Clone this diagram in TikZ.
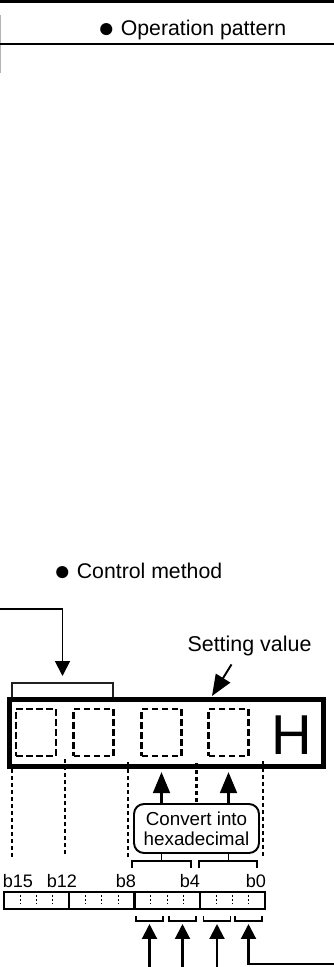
\documentclass[tikz,border=0pt]{standalone}
\usepackage{fontspec}
\setmainfont{Liberation Sans}
\usetikzlibrary{arrows.meta, calc}
\definecolor{my_black}{HTML}{000000}
\definecolor{my_gray}{HTML}{B4B4B4}
\definecolor{my_darkgray}{HTML}{202020}
\newcommand{\headbullet}{{\fontsize{16}{16}\selectfont\raisebox{-1.6pt}{●}}}

\begin{document}
\begin{tikzpicture}[
    x=0.02cm, y=-0.02cm,  % one unit = one pixel of the sheet, y runs downwards
    line width=1.1pt,
    tip/.style={-{Triangle[length=8.5pt,width=8.5pt]}},
    bigtip/.style={-{Triangle[length=12pt,width=9.5pt]}},
    digit/.style={draw, dash pattern=on 3.8pt off 1.9pt, line width=1.3pt,
        minimum width=0.8cm, minimum height=0.94cm, inner sep=0pt},
    guide/.style={dash pattern=on 2.3pt off 1.7pt, line width=1.4pt},
    bitsep/.style={dash pattern=on 1pt off 1.2pt, line width=0.6pt},
    title/.style={anchor=base west, inner sep=0pt, font=\fontsize{12.1}{14}\selectfont},
]
\useasboundingbox (0,0) rectangle (334,967);

% ── Sheet rules at the top ───────────────────────────────────────────────────
\draw[my_black, line width=1.55pt] (0,1.3) -- (334,1.3);
\draw[my_gray, line width=0.6pt] (0.5,15) -- (0.5,73);
\draw[my_black, line width=1.2pt] (0,44) -- (334,44);
\node[title] (op-title) at (97,35) {\headbullet\ Operation pattern};

% ── Control method heading ───────────────────────────────────────────────────
\node[title] (ctl-title) at (53,578) {\headbullet\ Control method};

% ── Display with four digits and the H suffix ────────────────────────────────
\node[draw, line width=3pt, minimum width=6.28cm, minimum height=1.34cm,
    inner sep=0pt] (disp) at (166.5,733) {};
\foreach \i/\x in {1/36, 2/93.5, 3/161.5, 4/228.5}
    \node[digit] (dig\i) at (\x,732.5) {};
\node[font=\fontsize{32}{32}\selectfont, inner sep=0pt] (hex-h) at (291.5,735) {H};

% ── Upper two digits: bracket and incoming arrow ─────────────────────────────
\draw[my_darkgray] (12,697) -- (12,683) -- (113,683) -- (113,697);
\coordinate (src-top) at (0,609);
\coordinate (upper-in) at (62.5,676);
\draw[tip] (src-top) -| (upper-in);

% ── Setting value label ──────────────────────────────────────────────────────
\node[anchor=base, inner sep=0pt, font=\fontsize{12.2}{14}\selectfont]
    (setv) at (249.5,651) {Setting value};
\coordinate (setv-tip) at (212,696);
\draw[bigtip] ($(setv.south)+(-18,8)$) -- (setv-tip);

% ── Conversion box ───────────────────────────────────────────────────────────
\node[draw, fill=white, rounded corners=5.7pt, minimum width=2.5cm,
    minimum height=0.98cm, inner sep=0pt, align=center,
    font=\fontsize{10.7}{11.4}\selectfont] (conv) at (196.5,828.5)
    {Convert into\\hexadecimal};

% ── Dotted guide lines from the digit borders ───────────────────────────────
\foreach \x/\ya/\yb in {12/769/857, 65/759/854, 128/762/857, 263/761/856}
    \draw[guide] (\x,\ya) -- (\x,\yb);
\draw[guide] (196.5,763) -- (conv.north);

% ── Arrows from the conversion box into the lower digits ────────────────────
\foreach \i in {3,4}
    \draw[line width=1.2pt, -{Triangle[length=12pt,width=9.7pt]}]
        (conv.north -| dig\i) -- ($(disp.south -| dig\i)+(0,3)$);

% ── Brackets below the conversion box ───────────────────────────────────────
\draw (conv.south -| dig3) -- (161.5,861);
\draw (conv.south -| dig4) -- (228.5,861);
\draw (132,868) -- (132,861) -- (191,861) -- (191,868);
\draw (199,868) -- (199,861) -- (257,861) -- (257,868);

% ── 16-bit register ──────────────────────────────────────────────────────────
\node[draw, line width=1.3pt, minimum width=5.22cm, minimum height=0.34cm,
    inner sep=0pt] (reg) at (134.5,900.5) {};
\foreach \k in {1,2,3}
    \draw[line width=1.3pt] ({4+65.25*\k},892) -- ({4+65.25*\k},909);
\foreach \j in {1,2,3,5,6,7,9,10,11,13,14,15}
    \draw[bitsep] ({4+16.3125*\j},895) -- ({4+16.3125*\j},906);
\foreach \name/\x in {b15/34, b12/78, b8/137, b4/201, b0/267}
    \node[anchor=base east, inner sep=0pt, font=\fontsize{10.3}{11}\selectfont]
        (lbl-\name) at (\x,887) {\name};

% ── Bit-pair brackets and their inputs ──────────────────────────────────────
\foreach \i/\x in {1/149.5, 2/182.5, 3/217, 4/248.5} {
    \draw ({\x-13.5},916) -- ({\x-13.5},921) -- ({\x+13.5},921) -- ({\x+13.5},916);
    \coordinate (pair\i) at (\x,924);
}
\coordinate (foot) at (0,975);
\foreach \i in {1,2,3}
    \draw[tip, line width=1.2pt] (pair\i |- foot) -- (pair\i);
\coordinate (feed) at (334,964);
\draw[tip, line width=1.2pt] (feed) -| (pair4);

\end{tikzpicture}
\end{document}
